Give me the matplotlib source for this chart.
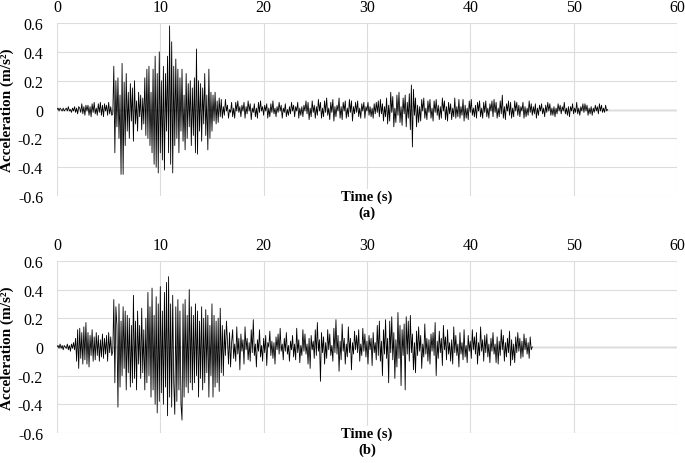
import numpy as np
import matplotlib
matplotlib.use("Agg")
import matplotlib.pyplot as plt

plt.rcParams['font.family'] = ['Liberation Serif', 'DejaVu Serif']

# sampling step of the records (s)
dt = 0.1

# record (a), acceleration in 0.01 m/s^2, one row per second
acc_a_cm = [
    0, 1, -1, 1, 0, -1, 1, -1, 0, 1,
    -1, 2, -1, 0, -2, 1, -1, 2, -2, 1,
    -3, 2, 1, -2, 4, -3, 2, -4, 3, -1,
    3, -4, 2, -5, 4, -2, 5, -3, 1, -4,
    4, -2, 5, -4, 3, -5, 4, -1, 3, -4,
    5, -3, 2, -4, -3, 30, -30, 20, -12, 22,
    -20, 10, -45, 32, -45, 19, -25, 25, -15, 12,
    -20, 18, -8, 15, -22, 20, -10, 6, -15, 12,
    -5, 10, -14, 8, -10, 22, -18, 28, -20, 30,
    -25, 12, -30, 28, -38, 37, -40, 25, -44, 40,
    -30, 20, -35, 30, -42, 25, -15, 37, -30, 58,
    -38, 47, -44, 30, -25, 35, -20, 28, -30, 22,
    -15, 28, -22, 10, -28, 25, -20, 18, -12, 20,
    -25, 15, -18, 22, -30, 42, -31, 20, -15, 18,
    -22, 15, -10, 25, -18, 10, -28, 28, -20, 12,
    -15, 10, -8, 12, -10, 6, -9, 8, -5, 7,
    -6, 2, -4, 7, -1, 3, -6, 0, -2, 5,
    -5, 1, -6, 5, -1, 6, -2, 2, -5, 3,
    -1, 5, -6, 2, -3, 6, -1, 4, -7, 1,
    -2, 4, -5, 1, -6, 5, -2, 6, -1, 2,
    -4, 3, -1, 4, -6, 1, -5, 4, -2, 6,
    -3, 1, -5, 2, -2, 5, -1, 3, -6, 1,
    -2, 4, -5, 0, -4, 2, -3, 5, -1, 3,
    -5, 2, -1, 5, -6, 1, -4, 2, -5, 3,
    -1, 6, -3, 5, -7, 1, -5, 6, -2, 3,
    -6, 2, -4, 7, -1, 5, -6, 1, -5, 6,
    -2, 8, -4, 1, -7, 5, -2, 7, -8, 2,
    -5, 3, -1, 8, -6, 2, -7, 5, -1, 6,
    -6, 1, -5, 7, -2, 6, -8, 2, -3, 5,
    -2, 6, -5, 1, -6, 4, -1, 5, -6, 2,
    -1, 5, -4, 2, -5, 1, -6, 4, -3, 5,
    -2, 6, -5, 7, -3, 4, -8, 2, -5, 8,
    -10, 3, -8, 12, -2, 9, -12, 1, -9, 10,
    -4, 12, -9, 2, -11, 8, -3, 10, -12, 5,
    -6, 11, -14, 17, -26, 14, -4, 8, -12, 3,
    -9, 2, -8, 7, -1, 8, -6, 1, -7, 6,
    -2, 7, -6, 1, -8, 6, -2, 7, -4, 3,
    -7, 2, -6, 8, -1, 6, -7, 2, -8, 5,
    -3, 4, -7, 1, -5, 8, -6, 2, -5, 7,
    -6, 2, -4, 7, -8, 3, -6, 1, -7, 6,
    -2, 7, -4, 1, -5, 3, -6, 5, -1, 6,
    -5, 1, -6, 5, -2, 6, -5, 1, -6, 4,
    -1, 6, -5, 7, -2, 5, -6, 1, -5, 6,
    -3, 10, -6, 2, -7, 4, -1, 6, -4, 5,
    -6, 1, -5, 6, -1, 5, -4, 3, -5, 2,
    -1, 5, -6, 2, -5, 1, -4, 6, -2, 4,
    -4, 2, -3, 4, -6, 1, -4, 3, -1, 4,
    -3, 1, -5, 3, -2, 5, -1, 4, -4, 1,
    -4, 2, -5, 1, -3, 4, -1, 3, -3, 2,
    -1, 5, -3, 1, -4, 2, -5, 2, -1, 4,
    -3, 1, -2, 5, -3, 1, -4, 2, -1, 4,
    -2, 4, -1, 3, -4, 1, -3, 2, -4, 1,
    -2, 3, -1, 2, -3, 4, -1, 3, -2, 1,
    -2, 3, -1, 0,
]

# record (b), acceleration in 0.01 m/s^2, one row per second
acc_b_cm = [
    0, 1, -1, 2, -1, 1, -2, 1, 0, -1,
    2, -2, 1, -3, 2, -1, 3, -2, 6, -10,
    12, -15, 13, -8, 10, -12, 14, -9, 17, -12,
    10, -14, 8, -6, 12, -10, 7, -9, 10, -6,
    8, -10, 5, -7, 9, -8, 6, -5, 8, -10,
    10, -4, 7, -6, -3, 33, -25, 28, 15, -42,
    30, -28, 18, -20, 28, -15, 25, -30, 22, -18,
    20, -28, 15, -25, 36, -22, 18, -30, 25, -12,
    15, -22, 27, -18, 12, -30, 20, -25, 38, -20,
    28, -35, 41, -30, 22, -40, 35, -46, 30, -38,
    42, -32, 25, -40, 38, -28, 45, -48, 49, -35,
    30, -42, 36, -25, -47, 28, -38, 33, -30, 25,
    -40, -51, 30, -35, 33, -28, 22, -32, 40, -25,
    28, -30, 22, -25, 30, -20, 25, -35, 18, -22,
    28, -30, 20, -25, 26, -18, 22, -35, 15, -20,
    30, -35, 22, -28, 18, -25, 20, -31, 27, -18,
    15, -20, 12, -6, 18, 4, -12, 10, -14, 3,
    12, -8, 2, -10, 14, -5, 6, -16, 9, -3,
    5, -12, 14, -2, 6, -9, 3, -10, 12, -4,
    19, -6, 2, -14, 5, -3, 12, -7, 1, -10,
    6, -4, 8, -13, 3, 0, 11, -6, 4, -8,
    3, -12, 7, -2, 9, -5, 13, -3, 2, -9,
    6, -3, 10, -5, 1, -10, 4, -2, 8, -7,
    2, -9, 13, -4, 5, -11, 1, -6, 12, -3,
    9, -5, 2, -12, 6, -15, 8, -2, 4, -8,
    12, -6, 17, -3, 5, -24, 10, -4, 7, -12,
    3, -8, 12, -2, 9, -6, 1, -10, 13, -4,
    19, -5, 8, -17, 4, -9, 16, -3, 6, -12,
    2, -7, 14, -4, 6, -16, 3, -5, 11, -2,
    8, -4, 12, -10, 2, -6, 13, -3, 9, -7,
    4, -12, 8, -2, 6, -13, 10, -4, 3, -9,
    15, -6, 18, -10, 4, -20, 12, -5, 19, -8,
    6, -25, 18, -4, 21, -9, 10, -22, 5, -14,
    24, -8, 15, -27, 12, -6, 16, -30, 21, -5,
    18, -10, 22, -4, 9, -16, 3, -18, 11, -6,
    14, -3, 8, -15, 2, -7, 16, -5, 6, -10,
    5, -12, 9, -3, 10, -6, 17, -20, 4, -8,
    11, -4, 6, -13, 15, -2, 7, -9, 12, -5,
    3, -10, 5, -12, 14, -4, 8, -6, 2, -14,
    10, -5, 3, -9, 12, -7, 1, -11, 8, -3,
    4, -8, 12, -2, 7, -5, 10, -12, 3, -6,
    14, -3, 5, -10, 8, -4, 9, -7, 2, -11,
    6, -3, 10, -5, 2, -11, 7, -12, 4, -6,
    12, -2, 8, -10, 3, -7, 6, -4, 11, -13,
    5, -9, 2, -11, 7, -4, 10, -3, 6, -8,
    4, -7, 9, -2, 6, -5, 3, -8, 7, -2,
    0,
]

x_ticks = [0, 10, 20, 30, 40, 50, 60]
y_ticks = [-0.6, -0.4, -0.2, 0, 0.2, 0.4, 0.6]
y_tick_labels = ['-0.6', '-0.4', '-0.2', '0', '0.2', '0.4', '0.6']
panel_labels = ['(a)', '(b)']


def style_panel(ax, label):
    ax.set_xlim(0, 60)
    ax.set_ylim(-0.6, 0.6)
    ax.set_xticks(x_ticks)
    ax.set_yticks(y_ticks)
    ax.set_yticklabels(y_tick_labels)
    ax.xaxis.tick_top()
    ax.tick_params(length=0, labelsize=11.5)
    ax.tick_params(axis='y', pad=10)
    ax.tick_params(axis='x', pad=6)
    for s in ax.spines.values():
        s.set_visible(False)
    ax.grid(True, color='#dcdcdc', lw=0.8)
    ax.axhline(0, color='#b4b4b4', lw=1.0, zorder=1)
    ax.set_ylabel('Acceleration (m/s²)', fontsize=11, fontweight='bold', labelpad=3)
    ax.text(30, -0.6, 'Time (s)', ha='center', va='center', fontsize=10.5,
            fontweight='bold', zorder=5,
            bbox=dict(facecolor='white', edgecolor='none', pad=0.5))
    ax.text(30, -0.715, label, ha='center', va='center', fontsize=10.5,
            fontweight='bold', clip_on=False)


fig = plt.figure(figsize=(6.85, 4.64), dpi=100)
ax_a = fig.add_axes([0.0832, 0.5754, 0.905, 0.3728])
ax_b = fig.add_axes([0.0832, 0.0647, 0.905, 0.371])

for ax, acc, label in [(ax_a, acc_a_cm, panel_labels[0]), (ax_b, acc_b_cm, panel_labels[1])]:
    acc = np.array(acc) / 100.0
    t = np.arange(len(acc)) * dt
    ax.plot(t, acc, color='black', lw=0.6, zorder=3)
    style_panel(ax, label)

fig.savefig('out.png', dpi=100)
